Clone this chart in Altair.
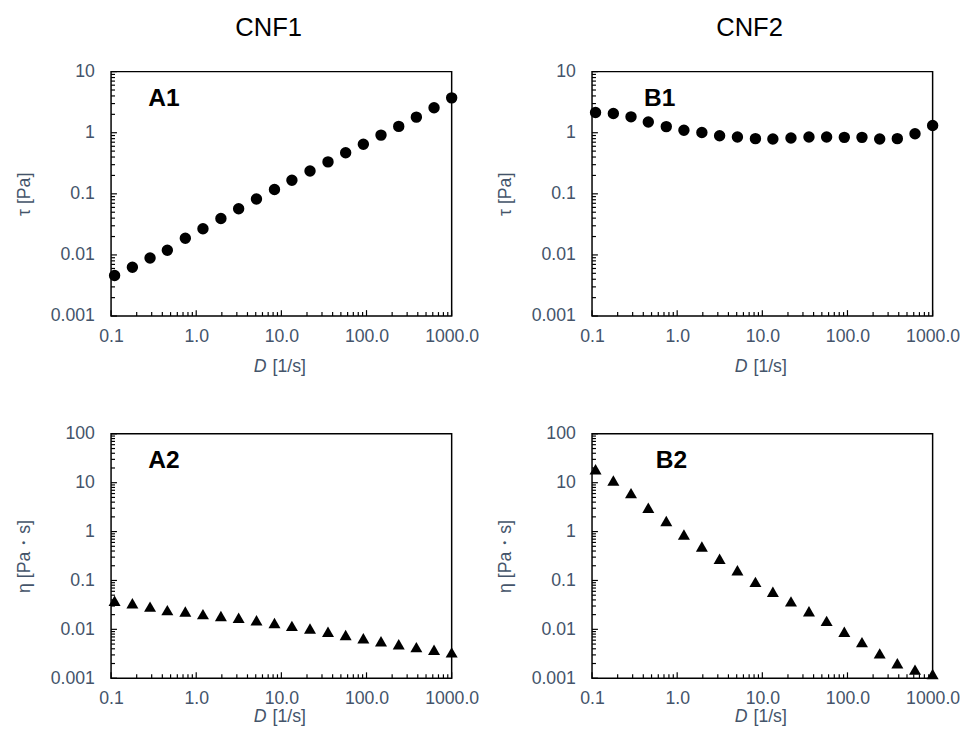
import altair as alt
import pandas as pd

# ---- data ----
D = [0.11, 0.178, 0.287, 0.458, 0.745, 1.2, 1.95, 3.15, 5.1, 8.3,
     13.3, 21.7, 35.3, 56.9, 91.8, 148, 239, 385, 621, 1000]
tau_cnf1 = [0.0046, 0.0063, 0.0089, 0.0119, 0.0188, 0.0269, 0.0394, 0.057, 0.0825, 0.118,
            0.167, 0.236, 0.333, 0.47, 0.648, 0.914, 1.27, 1.80, 2.57, 3.72]
tau_cnf2 = [2.14, 2.06, 1.82, 1.50, 1.26, 1.10, 1.01, 0.89, 0.85, 0.80,
            0.79, 0.82, 0.85, 0.85, 0.84, 0.84, 0.79, 0.80, 0.96, 1.31]
eta_cnf1 = [0.0386, 0.0341, 0.0292, 0.0247, 0.0232, 0.0205, 0.0187, 0.0173, 0.0153, 0.0135,
            0.0118, 0.0104, 0.00893, 0.00765, 0.00656, 0.00571, 0.00497, 0.00433, 0.00382, 0.00338]
eta_cnf2 = [18.8, 11.1, 6.12, 3.08, 1.65, 0.871, 0.497, 0.279, 0.162, 0.0937,
            0.0586, 0.0373, 0.0234, 0.0149, 0.0089, 0.00547, 0.00322, 0.00202, 0.0015, 0.00122]

column_titles = ["CNF1", "CNF2"]
panel_labels = ["A1", "B1", "A2", "B2"]
x_ticks = [0.1, 1, 10, 100, 1000]
y_ticks_top = [0.001, 0.01, 0.1, 1, 10]
y_ticks_bottom = [0.001, 0.01, 0.1, 1, 10, 100]
minor_mult = [2, 3, 4, 5, 6, 7, 8, 9]

FONT = "Liberation Sans"
GRAY = "#44546A"
W, H = 347, 249


def minors(majors):
    return [m * d for d in majors[:-1] for m in minor_mult]


def panel(yvals, ymajor, shape, size, ytitle, label, label_x, xtitle_gap, title=None):
    df = pd.DataFrame({"D": D, "v": yvals})
    xs = alt.Scale(type="log", domain=[x_ticks[0], x_ticks[-1]])
    ys = alt.Scale(type="log", domain=[ymajor[0], ymajor[-1]])
    xaxis = alt.Axis(values=x_ticks, format=".1f", labelFontSize=18, labelColor=GRAY,
                     labelFont=FONT, labelPadding=12, ticks=False, domain=False, grid=False,
                     labelFlush=False, labelOverlap=False, title=None)
    yaxis = alt.Axis(values=ymajor, format="~g", labelFontSize=18, labelColor=GRAY,
                     labelFont=FONT, labelPadding=17, ticks=False, domain=False, grid=False,
                     labelFlush=False, labelOverlap=False, title=ytitle, titleFontSize=18,
                     titleColor=GRAY, titleFont=FONT, titleFontWeight="normal", titlePadding=17)
    pts = alt.Chart(df).mark_point(filled=True, shape=shape, size=size, color="black",
                                   opacity=1).encode(
        x=alt.X("D:Q", scale=xs, axis=xaxis),
        y=alt.Y("v:Q", scale=ys, axis=yaxis),
    )
    xmaj = alt.Chart(pd.DataFrame({"D": x_ticks})).mark_rule(color="black", strokeWidth=1.2).encode(
        x=alt.X("D:Q", scale=xs), y=alt.value(H), y2=alt.value(H - 6))
    xmin = alt.Chart(pd.DataFrame({"D": minors(x_ticks)})).mark_rule(color="black", strokeWidth=1.2).encode(
        x=alt.X("D:Q", scale=xs), y=alt.value(H), y2=alt.value(H - 4))
    ymaj = alt.Chart(pd.DataFrame({"v": ymajor})).mark_rule(color="black", strokeWidth=1.2).encode(
        y=alt.Y("v:Q", scale=ys), x=alt.value(0), x2=alt.value(6))
    ymin = alt.Chart(pd.DataFrame({"v": minors(ymajor)})).mark_rule(color="black", strokeWidth=1.2).encode(
        y=alt.Y("v:Q", scale=ys), x=alt.value(0), x2=alt.value(4))
    lab = alt.Chart(pd.DataFrame({"t": [label]})).mark_text(
        align="left", baseline="alphabetic", fontSize=25, fontWeight="bold", font=FONT,
        color="black").encode(text="t:N", x=alt.value(label_x), y=alt.value(35))
    d_it = alt.Chart(pd.DataFrame({"t": ["D"]})).mark_text(
        align="right", baseline="alphabetic", fontSize=18, fontStyle="italic", font=FONT,
        color=GRAY).encode(text="t:N", x=alt.value(W / 2 - 15), y=alt.value(H + xtitle_gap))
    d_rest = alt.Chart(pd.DataFrame({"t": ["[1/s]"]})).mark_text(
        align="left", baseline="alphabetic", fontSize=18, font=FONT,
        color=GRAY).encode(text="t:N", x=alt.value(W / 2 - 9), y=alt.value(H + xtitle_gap))
    props = dict(width=W, height=H)
    if title:
        props["title"] = alt.TitleParams(title, fontSize=26, font=FONT, fontWeight="normal",
                                         color="black", dx=-13, offset=22, anchor="middle")
    return alt.layer(pts, xmaj, xmin, ymaj, ymin, lab, d_it, d_rest).properties(**props)


a1 = panel(tau_cnf1, y_ticks_top, "circle", 135, "τ [Pa]", panel_labels[0], 38, 57, column_titles[0])
b1 = panel(tau_cnf2, y_ticks_top, "circle", 135, "τ [Pa]", panel_labels[1], 53, 57, column_titles[1])
a2 = panel(eta_cnf1, y_ticks_bottom, "triangle-up", 150, "η [Pa・s]", panel_labels[2], 38, 45)
b2 = panel(eta_cnf2, y_ticks_bottom, "triangle-up", 150, "η [Pa・s]", panel_labels[3], 65, 45)

chart = alt.concat(a1, b1, a2, b2, columns=2, bounds="flush",
                   spacing=alt.RowColnumber(row=120, column=143)).configure_view(
    stroke="black", strokeWidth=1.5).properties(
    background="white", padding={"left": 7, "top": 0, "right": 5, "bottom": 0})

chart.save("out.html", embed_options={"renderer": "svg", "actions": False})
